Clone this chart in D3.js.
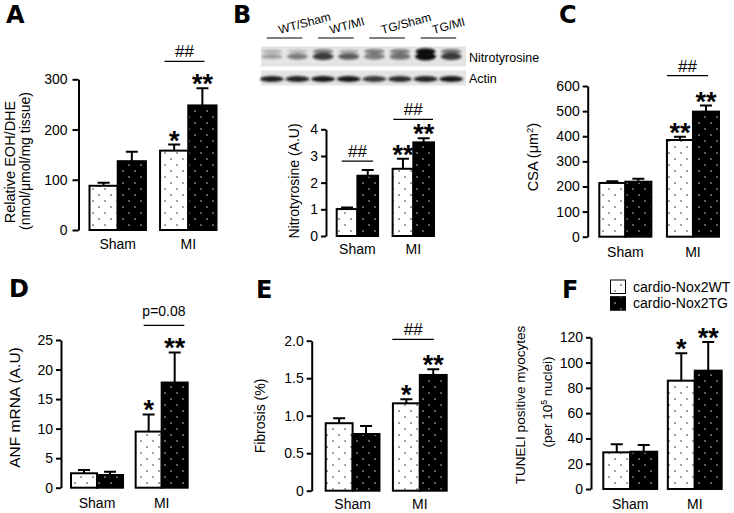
<!DOCTYPE html>
<html><head><meta charset="utf-8">
<script src="https://cdn.jsdelivr.net/npm/d3@7"></script>
<style>
body{margin:0;background:#fff}
svg{display:block}
text{font-family:"Liberation Sans",Arial,sans-serif;fill:#000}
</style>
</head><body>
<svg id="chart" width="734" height="513"></svg>
<script>
// ---------------- DATA ----------------
const groups = ["Sham", "MI"];
const seriesNames = ["cardio-Nox2WT", "cardio-Nox2TG"];

// A: Relative EOH/DHE
const aWT = [88, 158], aWTsem = [6, 12], aTG = [137, 248], aTGsem = [19, 34];
const aTicks = [0, 100, 200, 300];
const aStarsWT = ["", "*"], aStarsTG = ["", "**"];
const aBrackets = [{group: "MI", label: "##"}];

// B: Nitrotyrosine
const bWT = [1.01, 2.52], bWTsem = [0.06, 0.38], bTG = [2.26, 3.51], bTGsem = [0.21, 0.15];
const bTicks = [0, 1, 2, 3, 4];
const bStarsWT = ["", "**"], bStarsTG = ["", "**"];
const bBrackets = [{group: "Sham", label: "##"}, {group: "MI", label: "##"}];
const blotGroups = ["WT/Sham", "WT/MI", "TG/Sham", "TG/MI"];
const blotRows = ["Nitrotyrosine", "Actin"];
const nitroMain  = [0.30, 0.50, 0.80, 0.65, 0.50, 0.55, 1.00, 0.80];
const nitroUpper = [0.22, 0.18, 0.50, 0.25, 0.50, 0.50, 1.00, 0.55];
const actinBand  = [0.90, 0.90, 0.95, 0.95, 0.80, 0.85, 0.90, 0.95];

// C: CSA
const cWT = [214, 385], cWTsem = [7, 13], cTG = [219, 498], cTGsem = [12, 24];
const cTicks = [0, 100, 200, 300, 400, 500, 600];
const cStarsWT = ["", "**"], cStarsTG = ["", "**"];
const cBrackets = [{group: "MI", label: "##"}];

// D: ANF mRNA
const dWT = [2.44, 9.5], dWTsem = [0.56, 2.9], dTG = [2.15, 17.8], dTGsem = [0.55, 5.1];
const dTicks = [0, 5, 10, 15, 20, 25];
const dStarsWT = ["", "*"], dStarsTG = ["", "**"];
const dBrackets = [{group: "MI", label: "p=0.08"}];

// E: Fibrosis
const eWT = [0.90, 1.165], eWTsem = [0.065, 0.054], eTG = [0.756, 1.543], eTGsem = [0.107, 0.076];
const eTicks = [0, 0.5, 1.0, 1.5, 2.0];
const eTickLabels = ["0", "0.5", "1.0", "1.5", "2.0"];
const eStarsWT = ["", "*"], eStarsTG = ["", "**"];
const eBrackets = [{group: "MI", label: "##"}];

// F: TUNEL
const fWT = [29, 85.7], fWTsem = [6.4, 21.6], fTG = [29.5, 93.6], fTGsem = [5.3, 22.7];
const fTicks = [0, 20, 40, 60, 80, 100, 120];
const fStarsWT = ["", "*"], fStarsTG = ["", "**"];
const fBrackets = [];

// ---------------- DRAWING ----------------
const svg = d3.select("#chart");
const defs = svg.append("defs");

function makePattern(id, bg, dot) {
  const p = defs.append("pattern").attr("id", id).attr("patternUnits", "userSpaceOnUse")
    .attr("width", 12).attr("height", 12);
  p.append("rect").attr("width", 12).attr("height", 12).attr("fill", bg);
  [[3, 3], [9, 9]].forEach(([cx, cy]) =>
    p.append("rect").attr("x", cx - 0.6).attr("y", cy - 0.6).attr("width", 1.3).attr("height", 1.3).attr("fill", dot));
}
makePattern("pWT", "#fff", "#222");
makePattern("pTG", "#000", "#ddd");
const fills = ["url(#pWT)", "url(#pTG)"];

defs.append("filter").attr("id", "blur").attr("x", "-30%").attr("y", "-80%").attr("width", "160%").attr("height", "260%")
  .append("feGaussianBlur").attr("stdDeviation", "1.3 0.9");

function drawPanel(P, L) {
  const g = svg.append("g");
  const x = d3.scaleBand().domain(groups).range([L.x0, L.x1]).paddingInner(L.pad).paddingOuter(0);
  const xs = d3.scaleBand().domain([0, 1]).range([0, x.bandwidth()]);
  const y = d3.scaleLinear().domain([0, L.max]).range([L.y0, L.yTop]);

  const rows = groups.flatMap((grp, i) => [
    {g: grp, s: 0, v: P.wt[i], e: P.wtSem[i], star: P.starsWT[i]},
    {g: grp, s: 1, v: P.tg[i], e: P.tgSem[i], star: P.starsTG[i]}
  ]);
  const cx = d => x(d.g) + xs(d.s) + xs.bandwidth() / 2;

  // error bars
  g.selectAll(".err").data(rows).join("path")
    .attr("d", d => `M${cx(d)},${y(d.v)}V${y(d.v + d.e)}M${cx(d) - 6},${y(d.v + d.e)}H${cx(d) + 6}`)
    .attr("stroke", "#000").attr("stroke-width", 2).attr("fill", "none");

  // bars
  g.selectAll(".bar").data(rows).join("rect")
    .attr("x", d => x(d.g) + xs(d.s)).attr("y", d => y(d.v))
    .attr("width", xs.bandwidth()).attr("height", d => y(0) - y(d.v))
    .attr("fill", d => fills[d.s]).attr("stroke", "#000").attr("stroke-width", 2);

  // axis
  const ax = g.append("g").attr("transform", `translate(${L.axisX},0)`)
    .call(d3.axisLeft(y).tickValues(P.ticks).tickSize(L.tick || 5).tickSizeOuter(0).tickPadding(L.tpad || 3)
      .tickFormat((d, i) => P.tickLabels ? P.tickLabels[i] : d));
  ax.select(".domain").attr("stroke-width", 2).attr("stroke", "#000");
  ax.selectAll(".tick line").attr("stroke-width", 2).attr("stroke", "#000");
  ax.selectAll(".tick text").attr("font-size", 14).attr("font-family", "Liberation Sans, Arial, sans-serif").attr("fill", "#000");

  // category labels
  g.selectAll(".cat").data(groups).join("text")
    .attr("x", d => x(d) + x.bandwidth() / 2).attr("y", L.y0 + L.catDy)
    .attr("text-anchor", "middle").attr("font-size", 14).text(d => d);

  // stars
  g.selectAll(".star").data(rows.filter(d => d.star)).join("text")
    .attr("x", cx).attr("y", d => y(d.v + d.e) + 5)
    .attr("text-anchor", "middle").attr("font-size", 27).attr("font-weight", "bold").text(d => d.star);

  // brackets
  P.brackets.forEach((b, k) => {
    const bl = L.brk[k];
    const top = d3.min(rows.filter(d => d.g === b.group), d => y(d.v + d.e));
    const ly = top - bl.gap;
    const lx1 = x(b.group) + bl.l, lx2 = x(b.group) + x.bandwidth() + bl.r;
    g.append("line").attr("x1", lx1).attr("x2", lx2).attr("y1", ly).attr("y2", ly)
      .attr("stroke", "#000").attr("stroke-width", 1.3);
    const isHash = b.label.startsWith("#");
    g.append("text").attr("x", (lx1 + lx2) / 2).attr("y", ly - (isHash ? 4 : 9))
      .attr("text-anchor", "middle").attr("font-size", isHash ? 17 : 14).text(b.label);
  });

  // y labels
  L.ylab.forEach(t => {
    const tx = g.append("text").attr("transform", `translate(${t.x},${t.y}) rotate(-90)`)
      .attr("text-anchor", "middle").attr("font-size", t.size);
    if (Array.isArray(t.text)) {
      t.text.forEach(s => tx.append("tspan").attr("font-size", s.sup ? t.size * 0.65 : null)
        .attr("dy", s.sup ? -5 : (s.after ? 5 : null)).text(s.t));
    } else tx.text(t.text);
  });

  // panel letter
  svg.append("text").attr("x", L.letter[1]).attr("y", L.letter[2])
    .attr("font-weight", 700).attr("font-size", 24)
    .style("font-family", "'DejaVu Sans', sans-serif").text(L.letter[0]);
}

drawPanel({wt: aWT, wtSem: aWTsem, tg: aTG, tgSem: aTGsem, ticks: aTicks, starsWT: aStarsWT, starsTG: aStarsTG, brackets: aBrackets},
  {x0: 89.5, x1: 216.5, pad: 0.2, axisX: 78.5, y0: 230, yTop: 79.3, max: 300, catDy: 19, tick: 6, tpad: 5,
   brk: [{gap: 27, l: 4.5, r: -12}],
   ylab: [{text: "Relative EOH/DHE", x: 14.5, y: 162, size: 14.5},
          {text: "(nmol/μmol/mg  tissue)", x: 30, y: 161, size: 14}],
   letter: ["A", 6, 23]});

drawPanel({wt: bWT, wtSem: bWTsem, tg: bTG, tgSem: bTGsem, ticks: bTicks, starsWT: bStarsWT, starsTG: bStarsTG, brackets: bBrackets},
  {x0: 336.7, x1: 434, pad: 0.26, axisX: 326, y0: 236, yTop: 129.3, max: 4, catDy: 18,
   brk: [{gap: 9, l: 5, r: -5}, {gap: 19, l: 0.7, r: -1}],
   ylab: [{text: "Nitrotyrosine (A.U)", x: 299, y: 181, size: 14}],
   letter: ["B", 233, 23]});

drawPanel({wt: cWT, wtSem: cWTsem, tg: cTG, tgSem: cTGsem, ticks: cTicks, starsWT: cStarsWT, starsTG: cStarsTG, brackets: cBrackets},
  {x0: 599.3, x1: 719, pad: 0.23, axisX: 587.7, y0: 236.7, yTop: 86, max: 600, catDy: 20,
   brk: [{gap: 30, l: 0, r: -11}],
   ylab: [{text: [{t: "CSA (μm"}, {t: "2", sup: true}, {t: ")", after: true}], x: 538, y: 157, size: 14.5}],
   letter: ["C", 559, 23]});

drawPanel({wt: dWT, wtSem: dWTsem, tg: dTG, tgSem: dTGsem, ticks: dTicks, starsWT: dStarsWT, starsTG: dStarsTG, brackets: dBrackets},
  {x0: 71, x1: 187.7, pad: 0.195, axisX: 61, y0: 487.7, yTop: 340, max: 25, catDy: 20.5,
   brk: [{gap: 27, l: 8, r: -3.4}],
   ylab: [{text: "ANF mRNA (A.U)", x: 20, y: 407.5, size: 15.5}],
   letter: ["D", 9, 297]});

drawPanel({wt: eWT, wtSem: eWTsem, tg: eTG, tgSem: eTGsem, ticks: eTicks, tickLabels: eTickLabels, starsWT: eStarsWT, starsTG: eStarsTG, brackets: eBrackets},
  {x0: 325.7, x1: 446.7, pad: 0.2, axisX: 311.7, y0: 490.7, yTop: 340.7, max: 2, catDy: 18.5,
   brk: [{gap: 30, l: -0.6, r: -12.7}],
   ylab: [{text: "Fibrosis (%)", x: 265, y: 416, size: 14}],
   letter: ["E", 256, 298]});

drawPanel({wt: fWT, wtSem: fWTsem, tg: fTG, tgSem: fTGsem, ticks: fTicks, starsWT: fStarsWT, starsTG: fStarsTG, brackets: fBrackets},
  {x0: 603.3, x1: 721.7, pad: 0.165, axisX: 591, y0: 489, yTop: 337.3, max: 120, catDy: 20,
   brk: [],
   ylab: [{text: "TUNELI positive myocytes", x: 525, y: 405, size: 13.5},
          {text: [{t: "(per 10"}, {t: "5", sup: true}, {t: " nuclei)", after: true}], x: 552, y: 402, size: 13.5}],
   letter: ["F", 562, 298]});

// ---------------- BLOT (panel B) ----------------
const lane = d3.scaleBand().domain(d3.range(8)).range([259, 464]).padding(0);
const lc = i => lane(i) + lane.bandwidth() / 2;
const blot = svg.append("g");
blot.append("rect").attr("x", 261).attr("y", 46.5).attr("width", 205).attr("height", 20).attr("fill", "#e4e4e4");
blot.append("rect").attr("x", 261).attr("y", 70.5).attr("width", 205).attr("height", 15).attr("fill", "#e4e4e4");
const bandG = blot.append("g").attr("filter", "url(#blur)");
bandG.selectAll(".up").data(nitroUpper).join("ellipse")
  .attr("cx", (d, i) => lc(i)).attr("cy", 51.5).attr("rx", 10).attr("ry", d => 1.6 + d * 1.6)
  .attr("fill", "#111").attr("opacity", d => d);
bandG.selectAll(".main").data(nitroMain).join("ellipse")
  .attr("cx", (d, i) => lc(i)).attr("cy", 56.5).attr("rx", 10.5).attr("ry", d => 1.8 + d * 2.2)
  .attr("fill", "#111").attr("opacity", d => d);
bandG.selectAll(".act").data(actinBand).join("ellipse")
  .attr("cx", (d, i) => lc(i)).attr("cy", 79).attr("rx", 12).attr("ry", 3)
  .attr("fill", "#111").attr("opacity", d => d);
blot.selectAll(".rowlab").data(blotRows).join("text")
  .attr("x", 469).attr("y", (d, i) => [61.5, 83][i]).attr("font-size", 12.5).text(d => d);
blotGroups.forEach((name, k) => {
  const x1 = lc(2 * k) - 5, x2 = lc(2 * k + 1) + 5;
  blot.append("line").attr("x1", x1).attr("x2", x2).attr("y1", 38).attr("y2", 38).attr("stroke", "#000").attr("stroke-width", 1.2);
  blot.append("text").attr("transform", `translate(${x1 + 13},34) rotate(-15)`).attr("font-size", 12).text(name);
});

// ---------------- LEGEND ----------------
const leg = svg.append("g");
seriesNames.forEach((s, i) => {
  leg.append("rect").attr("x", 610.5).attr("y", 280 + i * 16.7).attr("width", 15).attr("height", 13.5)
    .attr("fill", fills[i]).attr("stroke", "#000").attr("stroke-width", 1);
  leg.append("text").attr("x", 633).attr("y", 291.7 + i * 16.7).attr("font-size", 14).text(s);
});
</script>
</body></html>
